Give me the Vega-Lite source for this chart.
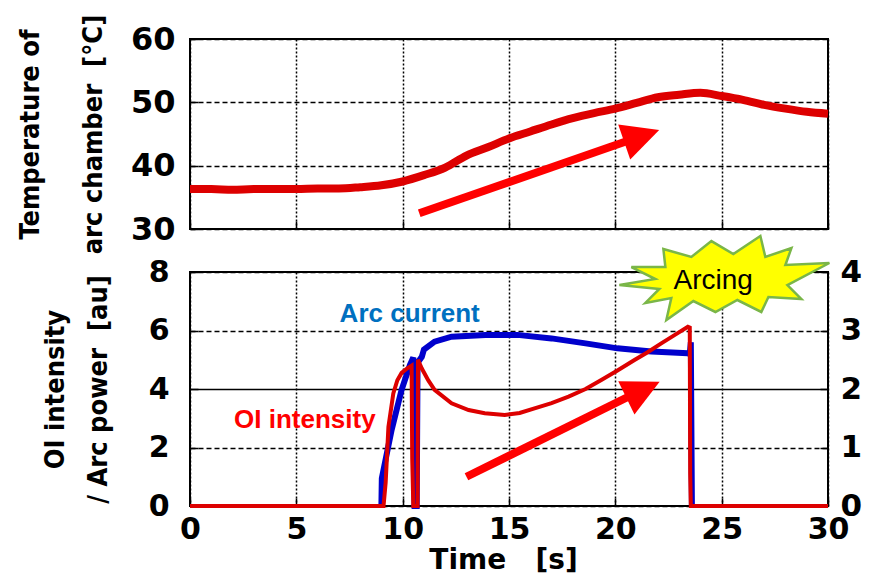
{
  "$schema": "https://vega.github.io/schema/vega-lite/v6.json",
  "background": "white",
  "padding": {"left": 15, "top": 13, "right": 0, "bottom": 0},
  "bounds": "flush",
  "spacing": 43,
  "config": {
    "view": {"stroke": "#000000", "strokeWidth": 2},
    "axis": {
      "domain": false,
      "labelColor": "#000000",
      "labelFont": "DejaVu Sans",
      "labelFontWeight": "bold",
      "labelFlush": false,
      "labelOverlap": false,
      "tickColor": "#000000",
      "tickWidth": 1.5,
      "tickSize": -8,
      "gridColor": "#000000",
      "gridOpacity": 1,
      "gridWidth": 1.5,
      "titleColor": "#000000"
    }
  },
  "vconcat": [
    {
      "width": 638,
      "height": 190,
      "encoding": {
        "x": {
          "field": "t", "type": "quantitative",
          "scale": {"domain": [0, 30], "nice": false},
          "axis": {
            "values": [0, 5, 10, 15, 20, 25, 30],
            "labels": false,
            "title": null,
            "grid": true,
            "gridDash": [2, 2]
          }
        },
        "y": {
          "field": "v", "type": "quantitative",
          "scale": {"domain": [30, 60], "nice": false, "zero": false},
          "axis": {
            "values": [30, 40, 50, 60],
            "labelFontSize": 32,
            "labelPadding": 23,
            "grid": true,
            "gridDash": [5, 3],
            "title": ["Temperature of", "arc chamber\u00a0\u00a0[°C]"],
            "titleFont": "DejaVu Sans Condensed, Liberation Sans",
            "titleFontWeight": "bold",
            "titleFontSize": 27,
            "titleAngle": -90,
            "titleAlign": "center",
            "titleBaseline": "alphabetic",
            "titleLineHeight": 63,
            "titleX": -151.5,
            "titleY": 95
          }
        }
      },
      "layer": [
        {
          "data": {"values": [
            {"t": 0, "v": 36.3}, {"t": 1, "v": 36.3}, {"t": 2, "v": 36.2}, {"t": 3, "v": 36.3},
            {"t": 4, "v": 36.3}, {"t": 5, "v": 36.3}, {"t": 6, "v": 36.4}, {"t": 7, "v": 36.4},
            {"t": 8, "v": 36.6}, {"t": 9, "v": 36.9}, {"t": 10, "v": 37.5}, {"t": 11, "v": 38.5},
            {"t": 12, "v": 39.7}, {"t": 13, "v": 41.6}, {"t": 14, "v": 42.9}, {"t": 15, "v": 44.3},
            {"t": 16, "v": 45.4}, {"t": 17, "v": 46.5}, {"t": 18, "v": 47.5}, {"t": 19, "v": 48.3},
            {"t": 20, "v": 49.0}, {"t": 21, "v": 49.9}, {"t": 22, "v": 50.8}, {"t": 23, "v": 51.2},
            {"t": 24, "v": 51.5}, {"t": 25, "v": 51.0}, {"t": 26, "v": 50.4}, {"t": 27, "v": 49.6},
            {"t": 28, "v": 49.0}, {"t": 29, "v": 48.5}, {"t": 30, "v": 48.2}
          ]},
          "mark": {"type": "line", "color": "#DD0000", "strokeWidth": 8, "interpolate": "monotone"}
        },
        {
          "data": {"values": [{"t": 10.78, "v": 32.48}, {"t": 20.73, "v": 44.09}]},
          "mark": {"type": "line", "color": "#FF0000", "strokeWidth": 8, "strokeCap": "butt"}
        },
        {
          "data": {"values": [{"t": 21.24, "v": 44.67}]},
          "mark": {
            "type": "point", "shape": "M -1 -1 L 1 0 L -1 1 Z", "size": 1369, "angle": -19,
            "filled": true, "color": "#FF0000", "opacity": 1
          }
        }
      ]
    },
    {
      "width": 638,
      "height": 234,
      "encoding": {
        "x": {
          "field": "t", "type": "quantitative",
          "scale": {"domain": [0, 30], "nice": false},
          "axis": {
            "values": [0, 5, 10, 15, 20, 25, 30],
            "labelFontSize": 30,
            "labelPadding": 16,
            "grid": true,
            "gridDash": [2, 2],
            "title": "Time\u00a0\u00a0\u00a0[s]",
            "titleFont": "DejaVu Sans",
            "titleFontWeight": "bold",
            "titleFontSize": 28,
            "titleAlign": "center",
            "titleBaseline": "alphabetic",
            "titleX": 313,
            "titleY": 62
          }
        }
      },
      "layer": [
        {
          "data": {"values": [
            {"t": 9.0, "v": 0}, {"t": 9.02, "v": 0.475}, {"t": 9.48, "v": 1.3}, {"t": 9.95, "v": 1.985},
            {"t": 10.34, "v": 2.41}, {"t": 10.5, "v": 2.54}, {"t": 10.56, "v": 0}, {"t": 10.66, "v": 0},
            {"t": 10.7, "v": 2.45}, {"t": 10.9, "v": 2.55}, {"t": 11.0, "v": 2.675}, {"t": 11.5, "v": 2.81},
            {"t": 12.3, "v": 2.895}, {"t": 13.9, "v": 2.925}, {"t": 15.4, "v": 2.925}, {"t": 17.0, "v": 2.865},
            {"t": 18.6, "v": 2.78}, {"t": 20.1, "v": 2.695}, {"t": 21.7, "v": 2.64}, {"t": 23.4, "v": 2.61},
            {"t": 23.5, "v": 2.6}, {"t": 23.55, "v": 2.8}, {"t": 23.6, "v": 0}
          ]},
          "mark": {"type": "line", "color": "#0000CC", "strokeWidth": 6},
          "encoding": {
            "y": {
              "field": "v", "type": "quantitative",
              "scale": {"domain": [0, 4], "nice": false},
              "axis": {
                "orient": "right",
                "values": [0, 1, 2, 3, 4],
                "labelFontSize": 31,
                "labelPadding": 20,
                "grid": false,
                "title": null
              }
            }
          }
        },
        {
          "encoding": {
            "y": {
              "field": "v", "type": "quantitative",
              "scale": {"domain": [0, 8], "nice": false},
              "axis": {
                "orient": "left",
                "values": [0, 2, 4, 6, 8],
                "labelFontSize": 30,
                "labelPadding": 29,
                "grid": true,
                "gridDash": {"condition": {"test": "datum.value === 4", "value": [1, 0]}, "value": [5, 3]},
                "title": ["OI intensity", "/ Arc power\u00a0\u00a0[au]"],
                "titleFont": "DejaVu Sans Condensed, Liberation Sans",
                "titleFontWeight": "bold",
                "titleFontSize": 27,
                "titleAngle": -90,
                "titleAlign": "center",
                "titleBaseline": "alphabetic",
                "titleLineHeight": 43,
                "titleX": -126.5,
                "titleY": 117
              }
            }
          },
          "layer": [
            {
              "data": {"values": [
                {"t": 0, "v": 0}, {"t": 9.1, "v": 0}, {"t": 9.2, "v": 0.8}, {"t": 9.33, "v": 2.7},
                {"t": 9.56, "v": 3.85}, {"t": 9.75, "v": 4.3}, {"t": 9.95, "v": 4.55}, {"t": 10.2, "v": 4.7},
                {"t": 10.42, "v": 4.8}, {"t": 10.45, "v": 1.6}, {"t": 10.5, "v": 0}, {"t": 10.7, "v": 0},
                {"t": 10.72, "v": 5.0}, {"t": 10.9, "v": 4.7}, {"t": 11.2, "v": 4.3}, {"t": 11.5, "v": 3.97},
                {"t": 12.3, "v": 3.51}, {"t": 13.1, "v": 3.28}, {"t": 13.86, "v": 3.17}, {"t": 14.8, "v": 3.11},
                {"t": 15.5, "v": 3.18}, {"t": 16.2, "v": 3.34}, {"t": 17.0, "v": 3.52}, {"t": 17.8, "v": 3.74},
                {"t": 18.6, "v": 4.0}, {"t": 19.34, "v": 4.31}, {"t": 20.1, "v": 4.63}, {"t": 20.9, "v": 4.99},
                {"t": 21.5, "v": 5.25}, {"t": 22.16, "v": 5.56}, {"t": 22.8, "v": 5.85}, {"t": 23.41, "v": 6.13},
                {"t": 23.5, "v": 6.1}, {"t": 23.52, "v": 1.1}, {"t": 23.55, "v": 0}, {"t": 30, "v": 0}
              ]},
              "mark": {"type": "line", "color": "#DD0000", "strokeWidth": 4}
            },
            {
              "data": {"values": [{"t": 13.0, "v": 1.0}, {"t": 20.85, "v": 3.82}]},
              "mark": {"type": "line", "color": "#FF0000", "strokeWidth": 8, "strokeCap": "butt"}
            },
            {
              "data": {"values": [{"t": 21.3, "v": 3.97}]},
              "mark": {
                "type": "point", "shape": "M -1 -1 L 1 0 L -1 1 Z", "size": 1369, "angle": -26,
                "filled": true, "color": "#FF0000", "opacity": 1
              }
            },
            {
              "data": {"values": [{"t": 25.08, "v": 7.76}]},
              "mark": {
                "type": "point",
                "shape": "M 0.349 -0.406 L 0.396 -0.208 L 0.642 -0.292 L 0.585 -0.132 L 1 -0.151 L 0.604 0.057 L 0.736 0.189 L 0.425 0.17 L 0.358 0.311 L 0.132 0.198 L -0.075 0.311 L -0.283 0.208 L -0.538 0.387 L -0.491 0.179 L -0.736 0.226 L -0.604 0.094 L -0.981 0.057 L -0.642 0 L -0.868 -0.113 L -0.547 -0.113 L -0.566 -0.283 L -0.302 -0.208 L -0.113 -0.358 L 0.094 -0.236 Z",
                "size": 44944,
                "filled": true,
                "fill": "#FFFF00",
                "stroke": "#7AB648",
                "strokeWidth": 2.5,
                "opacity": 1
              }
            },
            {
              "data": {"values": [{"t": 24.6, "v": 7.42, "label": "Arcing"}]},
              "mark": {"type": "text", "font": "Liberation Sans", "fontSize": 28, "color": "#000000", "align": "center", "baseline": "alphabetic"},
              "encoding": {"text": {"field": "label"}}
            },
            {
              "data": {"values": [
                {"t": 10.33, "v": 6.3, "label": "Arc current", "series": "current"},
                {"t": 5.4, "v": 2.67, "label": "OI intensity", "series": "oi"}
              ]},
              "mark": {"type": "text", "font": "Liberation Sans", "fontWeight": "bold", "fontSize": 26, "align": "center", "baseline": "alphabetic"},
              "encoding": {
                "text": {"field": "label"},
                "color": {
                  "field": "series", "type": "nominal",
                  "scale": {"domain": ["current", "oi"], "range": ["#0070C0", "#FF0000"]},
                  "legend": null
                }
              }
            }
          ]
        }
      ],
      "resolve": {"scale": {"y": "independent"}, "axis": {"y": "independent"}}
    }
  ]
}
